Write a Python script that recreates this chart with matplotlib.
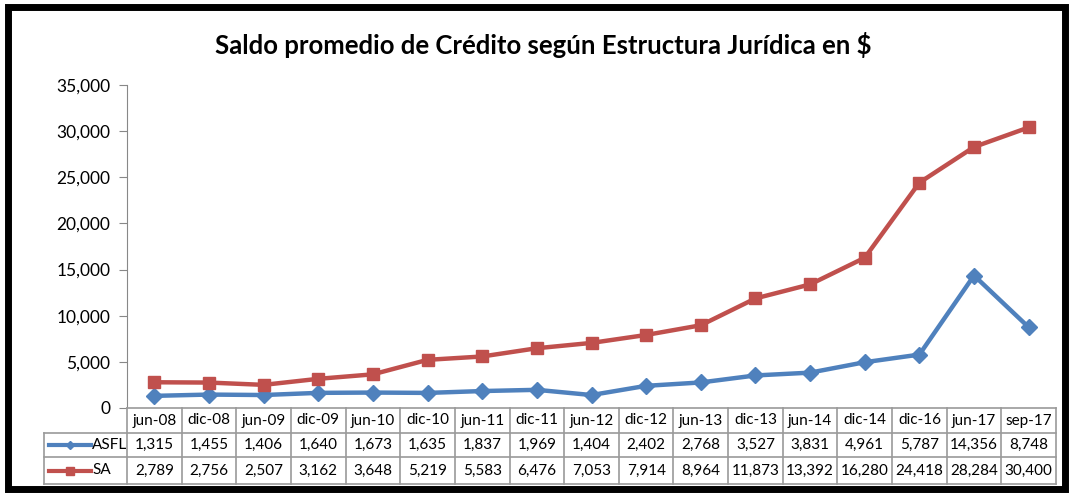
import matplotlib.pyplot as plt
import matplotlib.patches as mpatches
from matplotlib.lines import Line2D

plt.rcParams['font.family'] = ['Lato', 'DejaVu Sans']

# data
periods = ['jun-08', 'dic-08', 'jun-09', 'dic-09', 'jun-10', 'dic-10', 'jun-11', 'dic-11',
           'jun-12', 'dic-12', 'jun-13', 'dic-13', 'jun-14', 'dic-14', 'dic-16', 'jun-17', 'sep-17']
asfl = [1315, 1455, 1406, 1640, 1673, 1635, 1837, 1969, 1404, 2402, 2768, 3527, 3831,
        4961, 5787, 14356, 8748]
sa = [2789, 2756, 2507, 3162, 3648, 5219, 5583, 6476, 7053, 7914, 8964, 11873, 13392,
      16280, 24418, 28284, 30400]

blue = '#4F81BD'
red = '#C0504D'
W, H = 1076, 495

fig = plt.figure(figsize=(W / 100, H / 100), dpi=100)

def fx(px):
    return px / W

def fy(py):
    return 1 - py / H

# axes from pixel box
x0, x1, y_top, y_bot = 127, 1056, 85, 408
ax = fig.add_axes([fx(x0), fy(y_bot), fx(x1) - fx(x0), fy(y_top) - fy(y_bot)])

xs = range(len(periods))
ax.plot(xs, asfl, color=blue, lw=3.2, marker='D', ms=8, label='ASFL')
ax.plot(xs, sa, color=red, lw=3.2, marker='s', ms=8.5, label='SA')

ax.set_xlim(-0.5, len(periods) - 0.5)
ax.set_ylim(0, 35000)
ax.set_yticks(range(0, 35001, 5000))
ax.set_yticklabels([f'{v:,}' for v in range(0, 35001, 5000)], fontsize=12.5)
ax.set_xticks([])
for s in ['top', 'right', 'bottom']:
    ax.spines[s].set_visible(False)
ax.spines['left'].set_color('#888888')
ax.tick_params(axis='y', color='#888888', length=6, pad=6)

fig.text(0.505, fy(45), 'Saldo promedio de Crédito según Estructura Jurídica en $',
         ha='center', va='center', fontsize=18.5, fontweight='bold')

# data table below the plot
grid = '#9a9a9a'
col_w = (x1 - x0) / len(periods)
rows = [408, 433, 457, 484]
left_lab = 44
fs = 11

def hline(y, xa, xb):
    fig.add_artist(Line2D([fx(xa), fx(xb)], [fy(y), fy(y)], color=grid, lw=1.2))

def vline(x, ya, yb):
    fig.add_artist(Line2D([fx(x), fx(x)], [fy(ya), fy(yb)], color=grid, lw=1.2))

hline(rows[0], x0, x1)
for y in rows[1:]:
    hline(y, left_lab, x1)
vline(left_lab, rows[1], rows[3])
for i in range(len(periods) + 1):
    vline(x0 + i * col_w, rows[0], rows[3])

for i, p in enumerate(periods):
    cx = fx(x0 + (i + 0.5) * col_w)
    fig.text(cx, fy((rows[0] + rows[1]) / 2), p, ha='center', va='center', fontsize=fs)
    fig.text(cx, fy((rows[1] + rows[2]) / 2), f'{asfl[i]:,}', ha='center', va='center', fontsize=fs)
    fig.text(cx, fy((rows[2] + rows[3]) / 2), f'{sa[i]:,}', ha='center', va='center', fontsize=fs)

# legend keys in the row label cells
for r, (name, c, m, ms) in enumerate([('ASFL', blue, 'D', 4), ('SA', red, 's', 6)]):
    yc = fy((rows[r + 1] + rows[r + 2]) / 2)
    fig.add_artist(Line2D([fx(49), fx(91)], [yc, yc], color=c, lw=3))
    fig.add_artist(Line2D([fx(70)], [yc], color=c, marker=m, ms=ms, lw=0))
    fig.text(fx(92), yc, name, ha='left', va='center', fontsize=fs)

# outer black frame
fig.add_artist(mpatches.Rectangle((fx(8), fy(489)), fx(1065) - fx(8), fy(7) - fy(489),
                                  fill=False, ec='black', lw=5, transform=fig.transFigure))

fig.savefig('out.png', dpi=100)
